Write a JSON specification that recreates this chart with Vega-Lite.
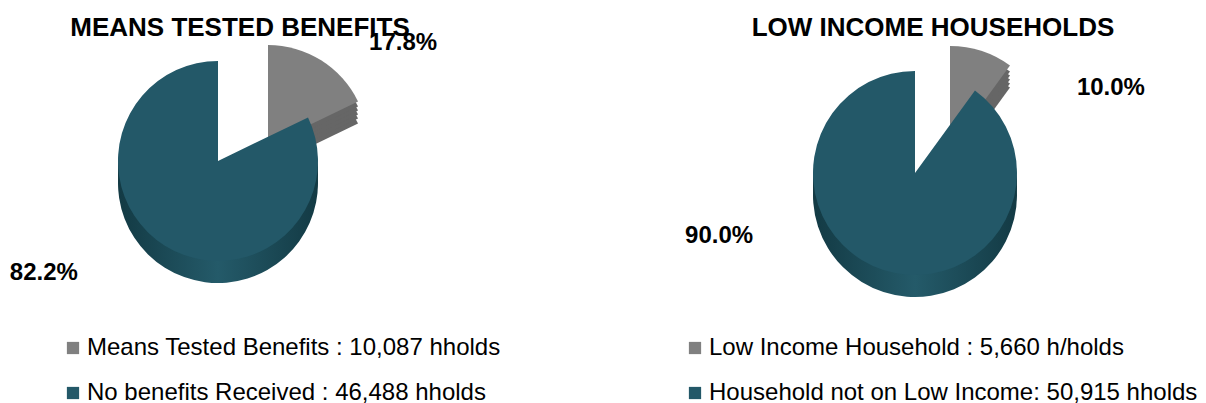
{
  "$schema": "https://vega.github.io/schema/vega-lite/v6.json",
  "padding": {"top": 14, "left": 0, "right": 0, "bottom": 0},
  "background": "white",
  "spacing": 188,
  "bounds": "flush",
  "config": {
    "view": {"stroke": null},
    "font": "Liberation Sans",
    "title": {"fontSize": 26, "fontWeight": "bold", "color": "#000000", "anchor": "middle"},
    "legend": {
      "orient": "none",
      "direction": "vertical",
      "title": null,
      "padding": 0,
      "symbolType": "square",
      "symbolSize": 150,
      "symbolStrokeWidth": 0,
      "symbolOpacity": 1,
      "labelFontSize": 24,
      "labelColor": "#000000",
      "labelOffset": 2,
      "labelLimit": 600,
      "rowPadding": 21
    }
  },
  "resolve": {"scale": {"color": "independent", "theta": "independent"}},
  "hconcat": [
    {
      "width": 436,
      "height": 160,
      "title": {"text": "MEANS TESTED BENEFITS", "dx": 22, "offset": -10},
      "data": {"values": [
        {"category": "Means Tested Benefits : 10,087 hholds", "households": 10087, "share": "17.8%", "slice": "highlight"},
        {"category": "No benefits Received : 46,488 hholds", "households": 46488, "share": "82.2%", "slice": "rest"}
      ]},
      "encoding": {
        "theta": {"field": "households", "type": "quantitative", "stack": true},
        "order": {"field": "households", "type": "quantitative", "sort": "ascending"}
      },
      "layer": [
        {"mark": {"type": "arc", "outerRadius": 100, "xOffset": 50, "yOffset": 6, "fill": "#666666"},
         "encoding": {"opacity": {"condition": {"test": "datum.slice === 'highlight'", "value": 1}, "value": 0}}},
        {"mark": {"type": "arc", "outerRadius": 100, "xOffset": 50, "yOffset": 1, "fill": "#666666"},
         "encoding": {"opacity": {"condition": {"test": "datum.slice === 'highlight'", "value": 1}, "value": 0}}},
        {"mark": {"type": "arc", "outerRadius": 100, "xOffset": 50, "yOffset": -3, "fill": "#666666"},
         "encoding": {"opacity": {"condition": {"test": "datum.slice === 'highlight'", "value": 1}, "value": 0}}},
        {"mark": {"type": "arc", "outerRadius": 100, "xOffset": 50, "yOffset": -7, "fill": "#666666"},
         "encoding": {"opacity": {"condition": {"test": "datum.slice === 'highlight'", "value": 1}, "value": 0}}},
        {"mark": {"type": "arc", "outerRadius": 100, "xOffset": 50, "yOffset": -11, "fill": "#666666"},
         "encoding": {"opacity": {"condition": {"test": "datum.slice === 'highlight'", "value": 1}, "value": 0}}},
        {"mark": {"type": "arc", "outerRadius": 100, "xOffset": 50, "yOffset": -16},
         "encoding": {
           "color": {"field": "category", "type": "nominal", "scale": {"domain": ["Means Tested Benefits : 10,087 hholds", "No benefits Received : 46,488 hholds"], "range": ["#808080", "#235868"]}},
           "opacity": {"condition": {"test": "datum.slice === 'highlight'", "value": 1}, "value": 0}}},
        {"mark": {"type": "arc", "outerRadius": 100, "yOffset": 22, "fill": {"gradient": "linear", "x1": 0, "x2": 1, "y1": 0, "y2": 0, "stops": [{"offset": 0, "color": "#133a44"}, {"offset": 0.5, "color": "#245a69"}, {"offset": 1, "color": "#133a44"}]}},
         "encoding": {"opacity": {"condition": {"test": "datum.slice === 'rest'", "value": 1}, "value": 0}}},
        {"mark": {"type": "arc", "outerRadius": 100, "yOffset": 15, "fill": {"gradient": "linear", "x1": 0, "x2": 1, "y1": 0, "y2": 0, "stops": [{"offset": 0, "color": "#133a44"}, {"offset": 0.5, "color": "#245a69"}, {"offset": 1, "color": "#133a44"}]}},
         "encoding": {"opacity": {"condition": {"test": "datum.slice === 'rest'", "value": 1}, "value": 0}}},
        {"mark": {"type": "arc", "outerRadius": 100, "yOffset": 8, "fill": {"gradient": "linear", "x1": 0, "x2": 1, "y1": 0, "y2": 0, "stops": [{"offset": 0, "color": "#133a44"}, {"offset": 0.5, "color": "#245a69"}, {"offset": 1, "color": "#133a44"}]}},
         "encoding": {"opacity": {"condition": {"test": "datum.slice === 'rest'", "value": 1}, "value": 0}}},
        {"mark": {"type": "arc", "outerRadius": 100},
         "encoding": {
           "color": {"field": "category", "type": "nominal", "scale": {"domain": ["Means Tested Benefits : 10,087 hholds", "No benefits Received : 46,488 hholds"], "range": ["#808080", "#235868"]},
             "legend": {"legendX": 61, "legendY": 255}},
           "opacity": {"condition": {"test": "datum.slice === 'rest'", "value": 1}, "value": 0}}},
        {"mark": {"type": "text", "radius": 100, "dx": 132, "dy": -33, "fontSize": 24, "fontWeight": "bold", "color": "#000000", "align": "center", "baseline": "middle"},
         "encoding": {"text": {"field": "share"}, "opacity": {"condition": {"test": "datum.slice === 'highlight'", "value": 1}, "value": 0}}},
        {"mark": {"type": "text", "radius": 100, "dx": -121, "dy": 27, "fontSize": 24, "fontWeight": "bold", "color": "#000000", "align": "center", "baseline": "middle"},
         "encoding": {"text": {"field": "share"}, "opacity": {"condition": {"test": "datum.slice === 'rest'", "value": 1}, "value": 0}}}
      ]
    },
    {
      "width": 582,
      "height": 184,
      "title": {"text": "LOW INCOME HOUSEHOLDS", "dx": 18, "offset": -7},
      "data": {"values": [
        {"category": "Low Income Household : 5,660 h/holds", "households": 5660, "share": "10.0%", "slice": "highlight"},
        {"category": "Household not on Low Income: 50,915 hholds", "households": 50915, "share": "90.0%", "slice": "rest"}
      ]},
      "encoding": {
        "theta": {"field": "households", "type": "quantitative", "stack": true},
        "order": {"field": "households", "type": "quantitative", "sort": "ascending"}
      },
      "layer": [
        {"mark": {"type": "arc", "outerRadius": 102, "xOffset": 35, "yOffset": -3, "fill": "#666666"},
         "encoding": {"opacity": {"condition": {"test": "datum.slice === 'highlight'", "value": 1}, "value": 0}}},
        {"mark": {"type": "arc", "outerRadius": 102, "xOffset": 35, "yOffset": -7, "fill": "#666666"},
         "encoding": {"opacity": {"condition": {"test": "datum.slice === 'highlight'", "value": 1}, "value": 0}}},
        {"mark": {"type": "arc", "outerRadius": 102, "xOffset": 35, "yOffset": -11, "fill": "#666666"},
         "encoding": {"opacity": {"condition": {"test": "datum.slice === 'highlight'", "value": 1}, "value": 0}}},
        {"mark": {"type": "arc", "outerRadius": 102, "xOffset": 35, "yOffset": -15, "fill": "#666666"},
         "encoding": {"opacity": {"condition": {"test": "datum.slice === 'highlight'", "value": 1}, "value": 0}}},
        {"mark": {"type": "arc", "outerRadius": 102, "xOffset": 35, "yOffset": -19, "fill": "#666666"},
         "encoding": {"opacity": {"condition": {"test": "datum.slice === 'highlight'", "value": 1}, "value": 0}}},
        {"mark": {"type": "arc", "outerRadius": 102, "xOffset": 35, "yOffset": -25},
         "encoding": {
           "color": {"field": "category", "type": "nominal", "scale": {"domain": ["Low Income Household : 5,660 h/holds", "Household not on Low Income: 50,915 hholds"], "range": ["#808080", "#235868"]}},
           "opacity": {"condition": {"test": "datum.slice === 'highlight'", "value": 1}, "value": 0}}},
        {"mark": {"type": "arc", "outerRadius": 102, "yOffset": 22, "fill": {"gradient": "linear", "x1": 0, "x2": 1, "y1": 0, "y2": 0, "stops": [{"offset": 0, "color": "#133a44"}, {"offset": 0.5, "color": "#245a69"}, {"offset": 1, "color": "#133a44"}]}},
         "encoding": {"opacity": {"condition": {"test": "datum.slice === 'rest'", "value": 1}, "value": 0}}},
        {"mark": {"type": "arc", "outerRadius": 102, "yOffset": 15, "fill": {"gradient": "linear", "x1": 0, "x2": 1, "y1": 0, "y2": 0, "stops": [{"offset": 0, "color": "#133a44"}, {"offset": 0.5, "color": "#245a69"}, {"offset": 1, "color": "#133a44"}]}},
         "encoding": {"opacity": {"condition": {"test": "datum.slice === 'rest'", "value": 1}, "value": 0}}},
        {"mark": {"type": "arc", "outerRadius": 102, "yOffset": 8, "fill": {"gradient": "linear", "x1": 0, "x2": 1, "y1": 0, "y2": 0, "stops": [{"offset": 0, "color": "#133a44"}, {"offset": 0.5, "color": "#245a69"}, {"offset": 1, "color": "#133a44"}]}},
         "encoding": {"opacity": {"condition": {"test": "datum.slice === 'rest'", "value": 1}, "value": 0}}},
        {"mark": {"type": "arc", "outerRadius": 102},
         "encoding": {
           "color": {"field": "category", "type": "nominal", "scale": {"domain": ["Low Income Household : 5,660 h/holds", "Household not on Low Income: 50,915 hholds"], "range": ["#808080", "#235868"]},
             "legend": {"legendX": 59, "legendY": 255}},
           "opacity": {"condition": {"test": "datum.slice === 'rest'", "value": 1}, "value": 0}}},
        {"mark": {"type": "text", "radius": 100, "dx": 165, "dy": 10, "fontSize": 24, "fontWeight": "bold", "color": "#000000", "align": "center", "baseline": "middle"},
         "encoding": {"text": {"field": "share"}, "opacity": {"condition": {"test": "datum.slice === 'highlight'", "value": 1}, "value": 0}}},
        {"mark": {"type": "text", "radius": 100, "dx": -165, "dy": -32, "fontSize": 24, "fontWeight": "bold", "color": "#000000", "align": "center", "baseline": "middle"},
         "encoding": {"text": {"field": "share"}, "opacity": {"condition": {"test": "datum.slice === 'rest'", "value": 1}, "value": 0}}}
      ]
    }
  ]
}
